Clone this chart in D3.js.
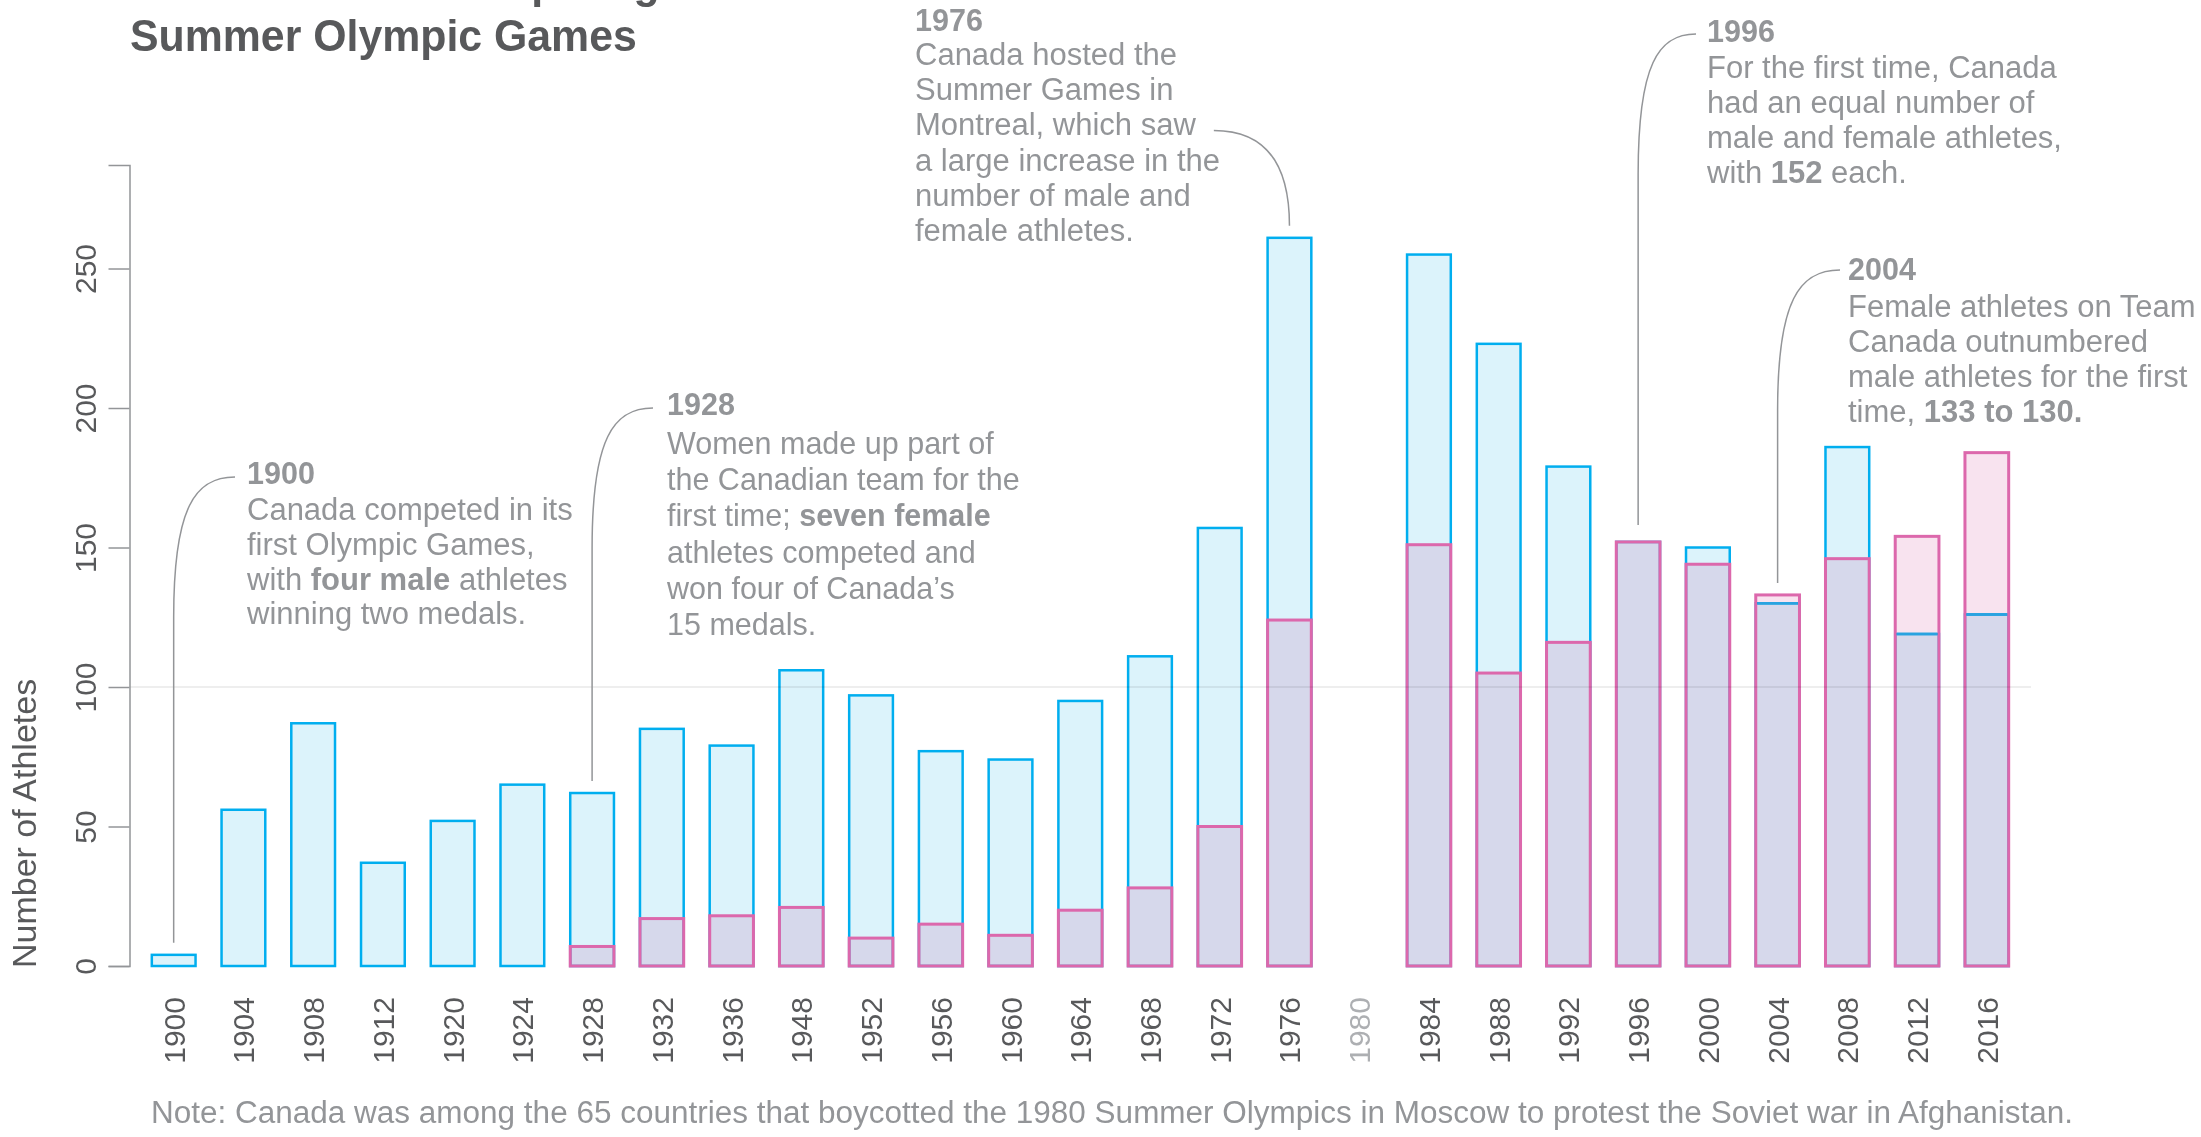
<!DOCTYPE html>
<html><head><meta charset="utf-8">
<script src="https://cdn.jsdelivr.net/npm/d3@7"></script>
<style>
html,body{margin:0;padding:0;background:#fff;}
svg{display:block;font-family:"Liberation Sans",Arial,Helvetica,sans-serif;}
</style></head><body>
<svg id="chart" width="2201" height="1137"></svg>
<script>
// ---------- data ----------
const years = ["1900","1904","1908","1912","1920","1924","1928","1932","1936","1948","1952","1956","1960","1964","1968","1972","1976","1980","1984","1988","1992","1996","2000","2004","2008","2012","2016"];
const maleAthletes   = [4,56,87,37,52,65,62,85,79,106,97,77,74,95,111,157,261,null,255,223,179,152,150,130,186,119,126];
const femaleAthletes = [0,0,0,0,0,0,7,17,18,21,10,15,11,20,28,50,124,null,151,105,116,152,144,133,146,154,184];
const yTicks = [0,50,100,150,200,250];
const gridValues = [100];
const boycottYear = "1980";

const titleLines = ["Men & Women Competing in the", "Summer Olympic Games"];
const yAxisTitle = "Number of Athletes";
const noteText = "Note: Canada was among the 65 countries that boycotted the 1980 Summer Olympics in Moscow to protest the Soviet war in Afghanistan.";

const annotationYears = ["1900","1928","1976","1996","2004"];
const annotationTexts = [
  ["Canada competed in its","first Olympic Games,","with **four male** athletes","winning two medals."],
  ["Women made up part of","the Canadian team for the","first time; **seven female**","athletes competed and","won four of Canada’s","15 medals."],
  ["Canada hosted the","Summer Games in","Montreal, which saw","a large increase in the","number of male and","female athletes."],
  ["For the first time, Canada","had an equal number of","male and female athletes,","with **152** each."],
  ["Female athletes on Team","Canada outnumbered","male athletes for the first","time, **133 to 130.**"]
];

// ---------- layout ----------
const W = 2201, H = 1137;
const annoLayout = {
  "1900": {x:247,  yearY:484, firstY:520,   lh:34.8, size:31,   sx:235,  sy:477, gap:12},
  "1928": {x:667,  yearY:415, firstY:454,   lh:36.2, size:30.5, sx:653,  sy:408, gap:12},
  "1976": {x:915,  yearY:31,  firstY:65,    lh:35.2, size:31,   fromLine:2, gap:12},
  "1996": {x:1707, yearY:42,  firstY:77.5,  lh:35.3, size:31,   sx:1696, sy:34,  gap:17},
  "2004": {x:1848, yearY:280, firstY:316.7, lh:35,   size:31,   sx:1840, sy:270, gap:12}
};
const textGray = "#939598", darkGray = "#58595B";
const blueStroke = "#00AEEF", blueFill = "#DCF3FB";
const pinkStroke = "#DC68AC", pinkFill = "#F8E3EF";

const svg = d3.select("#chart");

const x = d3.scaleBand().domain(years).range([129.5, 2031]).paddingInner(0.373).paddingOuter(0.32);
const y = d3.scaleLinear().domain([0, d3.max(maleAthletes) * 1.1]).range([966, 165]);
const bw = x.bandwidth();

const rows = years.map((yr, i) => ({year: yr, male: maleAthletes[i], female: femaleAthletes[i]}));

// ---------- title ----------
const tg = svg.append("g").attr("transform", "translate(130,0) scale(0.973,1)");
tg.append("text").attr("x", 0).attr("y", -2).attr("font-size", 44).attr("font-weight", "bold").attr("fill", darkGray).text(titleLines[0]);
tg.append("text").attr("x", 0).attr("y", 51).attr("font-size", 44).attr("font-weight", "bold").attr("fill", darkGray).text(titleLines[1]);

// ---------- bars ----------
const gBars = svg.append("g");
const withData = rows.filter(d => d.male != null);
gBars.selectAll("rect.male").data(withData).join("rect")
  .attr("class", "male")
  .attr("x", d => x(d.year)).attr("y", d => y(d.male))
  .attr("width", bw).attr("height", d => y(0) - y(d.male))
  .attr("fill", blueFill).attr("stroke", blueStroke).attr("stroke-width", 2.5);

const withFemale = rows.filter(d => d.female);
gBars.selectAll("rect.femaleFill").data(withFemale).join("rect")
  .attr("class", "femaleFill")
  .attr("x", d => x(d.year)).attr("y", d => y(d.female))
  .attr("width", bw).attr("height", d => y(0) - y(d.female))
  .attr("fill", pinkFill).style("mix-blend-mode", "multiply");
gBars.selectAll("rect.femaleStroke").data(withFemale).join("rect")
  .attr("class", "femaleStroke")
  .attr("x", d => x(d.year)).attr("y", d => y(d.female))
  .attr("width", bw).attr("height", d => y(0) - y(d.female))
  .attr("fill", "none").attr("stroke", pinkStroke).attr("stroke-width", 3);
// male top line visible where female exceeds male
gBars.selectAll("line.maleTop").data(withData.filter(d => d.female > d.male)).join("line")
  .attr("class", "maleTop")
  .attr("x1", d => x(d.year) + 1.5).attr("x2", d => x(d.year) + bw - 1.5)
  .attr("y1", d => y(d.male)).attr("y2", d => y(d.male))
  .attr("stroke", "#2AA3E0").attr("stroke-width", 2.5);

// ---------- gridline ----------
svg.append("g").selectAll("line").data(gridValues).join("line")
  .attr("x1", x.range()[0]).attr("x2", x.range()[1])
  .attr("y1", d => y(d)).attr("y2", d => y(d))
  .attr("stroke", "rgba(0,0,0,0.065)").attr("stroke-width", 2);

// ---------- y axis ----------
const gy = svg.append("g").attr("transform", `translate(${x.range()[0]},0)`)
  .call(d3.axisLeft(y).tickValues(yTicks).tickSize(21).tickSizeOuter(21).tickFormat(d3.format("d")));
gy.attr("font-size", 30).attr("font-family", null);
gy.select(".domain").attr("stroke", textGray).attr("stroke-width", 1.5);
gy.selectAll(".tick line").attr("stroke", textGray).attr("stroke-width", 1.5);
gy.selectAll(".tick text").attr("x", null).attr("dy", null).attr("y", 0)
  .attr("text-anchor", "middle").attr("transform", "translate(-33.5,0) rotate(-90)")
  .attr("fill", darkGray);

svg.append("text").attr("transform", `translate(36,${y(0)+2}) rotate(-90)`)
  .attr("text-anchor", "start").attr("font-size", 34).attr("fill", darkGray).text(yAxisTitle);

// ---------- x axis labels ----------
const gx = svg.append("g").attr("transform", `translate(0,${y(0)})`)
  .call(d3.axisBottom(x).tickSize(0));
gx.attr("font-size", 30).attr("font-family", null);
gx.select(".domain").remove();
gx.selectAll(".tick text").attr("x", null).attr("y", 0).attr("dy", null)
  .attr("text-anchor", "end").attr("transform", "translate(11,31) rotate(-90)")
  .attr("fill", d => d === boycottYear ? "#ADAFB2" : darkGray);

// ---------- annotations ----------
function addRich(textSel, str) {
  const parts = str.split("**");
  parts.forEach((p, i) => { if (p.length) textSel.append("tspan").attr("font-weight", i % 2 ? "bold" : null).text(p); });
}
const gA = svg.append("g");
annotationYears.forEach((yr, k) => {
  const L = annoLayout[yr];
  const g = gA.append("g");
  g.append("text").attr("x", L.x).attr("y", L.yearY).attr("font-size", 30.5).attr("font-weight", "bold").attr("fill", textGray).text(yr);
  const lineNodes = [];
  annotationTexts[k].forEach((ln, j) => {
    const t = g.append("text").attr("x", L.x).attr("y", L.firstY + j * L.lh).attr("font-size", L.size).attr("fill", textGray);
    addRich(t, ln);
    lineNodes.push(t);
  });
  const row = rows.find(r => r.year === yr);
  const top = Math.max(row.male || 0, row.female || 0);
  const ex = x(yr) + bw / 2, ey = y(top) - L.gap;
  let sx, sy;
  if (L.fromLine != null) {
    const node = lineNodes[L.fromLine].node();
    sx = L.x + node.getComputedTextLength() + 18;
    sy = L.firstY + L.fromLine * L.lh - 5;
  } else { sx = L.sx; sy = L.sy; }
  const dx = ex - sx;
  const p3y = Math.min(sy + 140, ey);
  const path = d3.path();
  path.moveTo(sx, sy);
  path.bezierCurveTo(sx + 0.65 * dx, sy, ex, sy + 30, ex, p3y);
  path.lineTo(ex, ey);
  g.append("path").attr("d", path.toString()).attr("fill", "none").attr("stroke", textGray).attr("stroke-width", 1.5);
});

// ---------- note ----------
svg.append("text").attr("x", 151).attr("y", 1123).attr("font-size", 31).attr("fill", textGray)
  .attr("textLength", 1922).attr("lengthAdjust", "spacingAndGlyphs").text(noteText);
</script>
</body></html>
